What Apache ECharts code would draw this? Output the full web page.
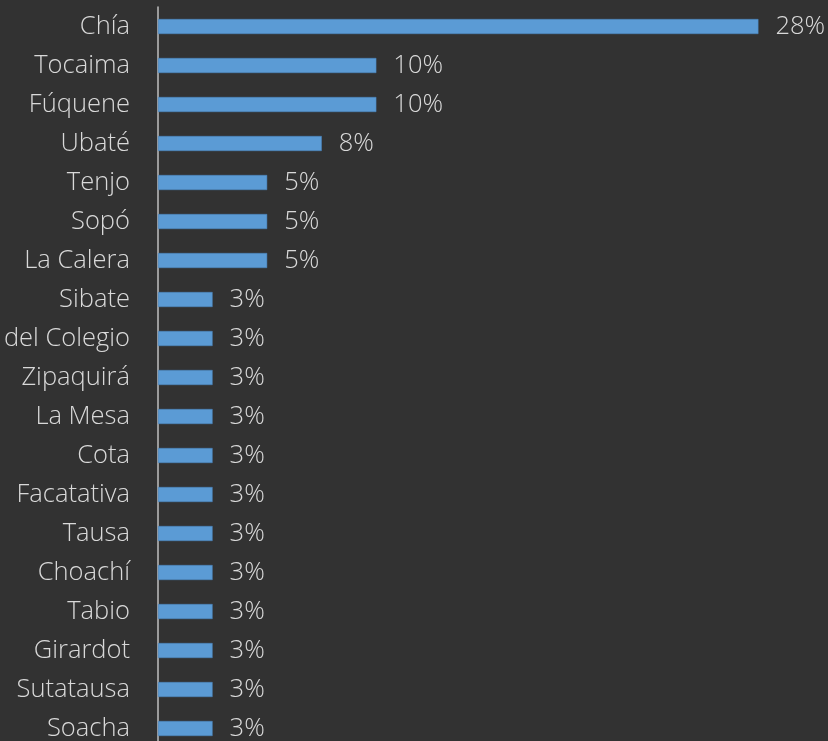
<!DOCTYPE html>
<html>
<head>
<meta charset="utf-8">
<script src="https://cdn.jsdelivr.net/npm/echarts@6/dist/echarts.min.js"></script>
<style>
  html, body { margin: 0; padding: 0; background: #323232; }
  #chart { width: 828px; height: 741px; }
</style>
</head>
<body>
<div id="chart"></div>
<script>
// municipios, de arriba hacia abajo
var municipios = ["Chía", "Tocaima", "Fúquene", "Ubaté", "Tenjo", "Sopó", "La Calera", "Sibate",
  "Mesitas del Colegio", "Zipaquirá", "La Mesa", "Cota", "Facatativa", "Tausa", "Choachí",
  "Tabio", "Girardot", "Sutatausa", "Soacha"];
// porcentajes
var porcentajes = [27.5, 10, 10, 7.5, 5, 5, 5, 2.5, 2.5, 2.5, 2.5, 2.5, 2.5, 2.5, 2.5, 2.5, 2.5, 2.5, 2.5];

var chart = echarts.init(document.getElementById("chart"));

chart.setOption({
  backgroundColor: "#323232",
  animation: false,
  grid: { left: 158, top: 7, height: 741, right: 15, containLabel: false, outerBoundsMode: "none" },
  xAxis: {
    type: "value",
    min: 0,
    max: 30,
    show: false
  },
  yAxis: {
    type: "category",
    inverse: true,
    data: municipios,
    axisLine: { show: true, lineStyle: { color: "#bfbfbf", width: 1.5 } },
    axisTick: { show: false },
    axisLabel: {
      color: "#d9d9d9",
      fontFamily: "Open Sans",
      fontWeight: 300,
      fontSize: 25.5,
      margin: 28
    }
  },
  series: [{
    type: "bar",
    data: porcentajes,
    barWidth: 15,
    itemStyle: { color: "#5b9bd5", borderColor: "#4a86c0", borderWidth: 0.5 },
    label: {
      show: true,
      position: "right",
      distance: 17,
      color: "#d9d9d9",
      fontFamily: "Open Sans",
      fontWeight: 300,
      fontSize: 25.5,
      formatter: function (p) { return Math.round(p.value) + "%"; }
    }
  }]
});
</script>
</body>
</html>
